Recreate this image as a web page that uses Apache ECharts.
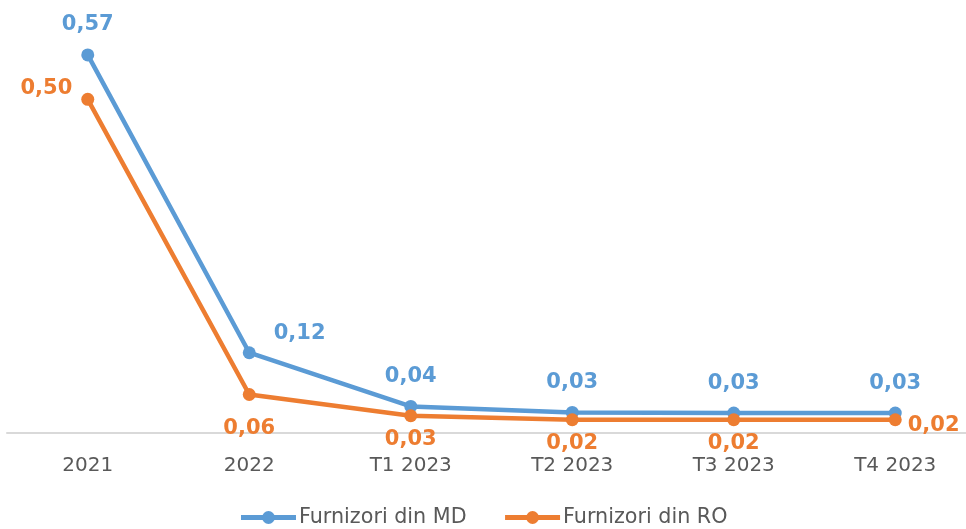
<!DOCTYPE html>
<html>
<head>
<meta charset="utf-8">
<script src="https://cdn.jsdelivr.net/npm/echarts@6/dist/echarts.min.js"></script>
<style>html,body{margin:0;padding:0;background:#fff}#c{width:966px;height:529px}</style>
</head>
<body>
<div id="c"></div>
<script>
const categories = ['2021', '2022', 'T1 2023', 'T2 2023', 'T3 2023', 'T4 2023'];
const seriesNames = ['Furnizori din MD', 'Furnizori din RO'];
const valuesMD = [0.570, 0.121, 0.040, 0.031, 0.030, 0.030];
const valuesRO = [0.503, 0.058, 0.026, 0.020, 0.020, 0.020];

const colMD = '#5B9BD5', colRO = '#ED7D31';
const fmt = v => v.toFixed(2).replace('.', ',');

// label placement per point (style, not data)
const labMD = [
  {position: 'top', distance: 13},
  {position: 'right', distance: 18, offset: [0, -19]},
  {position: 'top', distance: 13},
  {position: 'top', distance: 13},
  {position: 'top', distance: 13},
  {position: 'top', distance: 13}
];
const labRO = [
  {position: 'left', distance: 9, offset: [0, -11]},
  {position: 'bottom', distance: 17},
  {position: 'bottom', distance: 7},
  {position: 'bottom', distance: 7},
  {position: 'bottom', distance: 7},
  {position: 'right', distance: 6, offset: [0, 6]}
];

const build = (vals, labs) => vals.map((v, i) => ({value: v, label: labs[i]}));

const labelBase = c => ({
  show: true, color: c, fontFamily: 'DejaVu Sans', fontWeight: 'bold', fontSize: 21,
  formatter: p => fmt(p.value)
});

const chart = echarts.init(document.getElementById('c'), null, {renderer: 'canvas'});
chart.setOption({
  animation: false,
  grid: {left: 7, width: 969, top: 35, bottom: 96, containLabel: false, outerBoundsMode: 'none'},
  legend: {
    bottom: -4, left: 'center', itemWidth: 55, itemHeight: 16, itemGap: 36,
    lineStyle: {width: 5},
    textStyle: {fontFamily: 'DejaVu Sans', fontSize: 20.7, color: '#595959', padding: [0, 0, 0, -2]},
    data: seriesNames
  },
  xAxis: {
    type: 'category', data: categories, boundaryGap: true,
    axisLine: {lineStyle: {color: '#D9D9D9', width: 2}},
    axisTick: {show: false},
    axisLabel: {fontFamily: 'DejaVu Sans', fontSize: 20, color: '#595959', margin: 23}
  },
  yAxis: {type: 'value', min: 0, max: 0.6, show: false, splitLine: {show: false}},
  series: [
    {
      name: seriesNames[0], type: 'line', data: build(valuesMD, labMD),
      color: colMD, symbol: 'circle', symbolSize: 13,
      lineStyle: {width: 4.5, color: colMD}, itemStyle: {color: colMD},
      label: labelBase(colMD), z: 3
    },
    {
      name: seriesNames[1], type: 'line', data: build(valuesRO, labRO),
      color: colRO, symbol: 'circle', symbolSize: 13,
      lineStyle: {width: 4.5, color: colRO}, itemStyle: {color: colRO},
      label: labelBase(colRO), z: 4
    }
  ]
});
</script>
</body>
</html>
